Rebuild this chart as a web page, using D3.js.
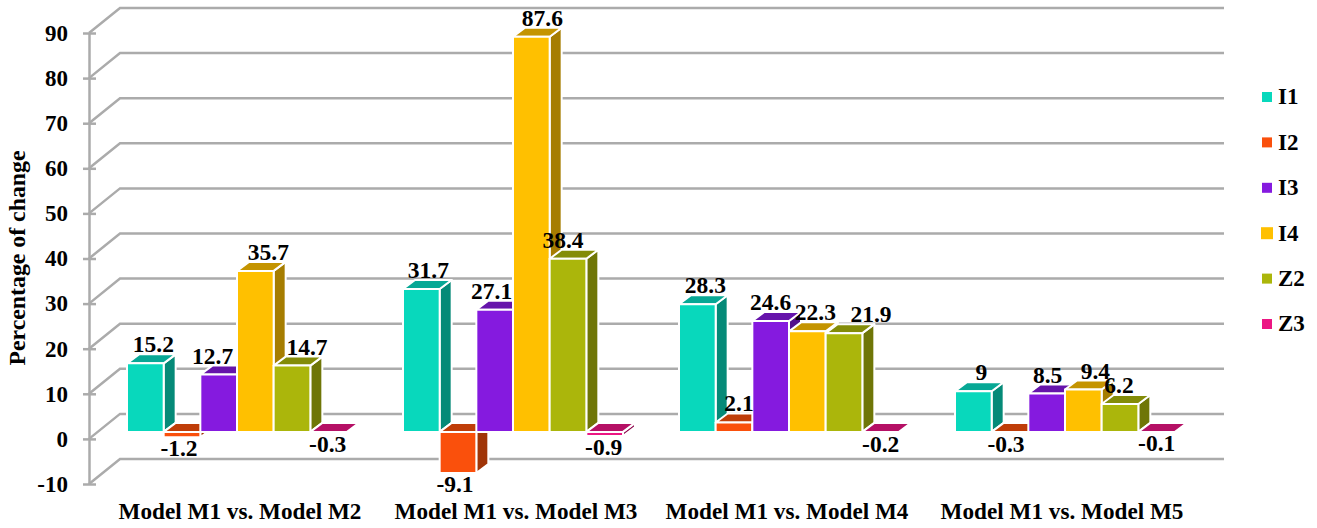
<!DOCTYPE html>
<html>

<head>
    <meta charset="utf-8">
    <style>
        html, body { margin: 0; background: #fff; }
        svg { display: block; }
        text { font-family: "Liberation Serif", serif; font-weight: bold; fill: #000; }
        .grid { fill: none; stroke: #ababab; stroke-width: 2.5; }
        .axis path.domain { stroke: #ababab; stroke-width: 2.5; }
        .axis line { stroke: #ababab; stroke-width: 2.5; }
        .bar-face { stroke: #fff; stroke-width: 2; stroke-linejoin: round; }
    </style>
</head>

<body>
    <svg id="container" width="1317" height="528"></svg>
</body>
<script src="https://cdn.jsdelivr.net/npm/d3@7/dist/d3.min.js"></script>

<script>
    const comparisons = ["Model M1 vs. Model M2", "Model M1 vs. Model M3", "Model M1 vs. Model M4", "Model M1 vs. Model M5"]
    const seriesNames = ["I1", "I2", "I3", "I4", "Z2", "Z3"]

    const I1 = [15.2, 31.7, 28.3, 9]
    const I2 = [-1.2, -9.1, 2.1, -0.3]
    const I3 = [12.7, 27.1, 24.6, 8.5]
    const I4 = [35.7, 87.6, 22.3, 9.4]
    const Z2 = [14.7, 38.4, 21.9, 6.2]
    const Z3 = [-0.3, -0.9, -0.2, -0.1]
    const seriesValues = [I1, I2, I3, I4, Z2, Z3]

    const yTicks = [-10, 0, 10, 20, 30, 40, 50, 60, 70, 80, 90]

    // front / top / side shade per series
    const front = ["#08d8bc", "#fa500c", "#851adf", "#ffc000", "#abb60b", "#ec1683"]
    const top_ = ["#07a895", "#bf3d08", "#6614ab", "#c49400", "#838c08", "#b51065"]
    const side = ["#058a78", "#a03508", "#52108c", "#a67d00", "#6f7607", "#8f0c50"]

    // horizontal shift of value labels so they clear the neighbouring bars
    const labelShift = [
        [8, -3, -6, 13, 15, -1],
        [7, -3, -3, 11, -5, -1],
        [8, 5, 0, 8, 27, 0],
        [8, -4, 1, 12, -1, 0]
    ]
    const categoryShift = [3, 3, -2, -3]

    const svg = d3.select("#container")

    const axisX = 89, wallDx = 31, wallDy = -25, wallRight = 1224
    const barDx = 10, barDy = -7, depthX = 12, depthY = -9

    const y = d3.scaleLinear().domain([-10, 90]).range([484, 33])
    const x0 = d3.scaleBand().domain(comparisons).range([axisX + barDx, axisX + barDx + 1104])
    const x1 = d3.scaleBand().domain(seriesNames).range([28, 248])

    // floor and wall lines
    svg.append("g").selectAll("path").data(yTicks).enter().append("path")
        .attr("class", "grid")
        .attr("d", d => `M${axisX},${y(d)}L${axisX + wallDx},${y(d) + wallDy}L${wallRight},${y(d) + wallDy}`)

    const yAxis = svg.append("g").attr("class", "axis").attr("transform", `translate(${axisX},0)`)
        .call(d3.axisLeft(y).tickValues(yTicks).tickFormat(d => String(d)).tickSizeOuter(0).tickSizeInner(6).tickPadding(15))
    yAxis.selectAll(".tick line").attr("x1", 7).attr("x2", -6)
    yAxis.selectAll(".tick text").style("font-size", "23px").attr("dy", "0.32em")

    const xAxis = svg.append("g").attr("class", "axis").attr("transform", "translate(0,500)")
        .call(d3.axisBottom(x0).tickSize(0).tickPadding(0))
    xAxis.select(".domain").remove()
    xAxis.selectAll(".tick text")
        .style("font-size", "23.2px")
        .attr("x", (d, i) => categoryShift[i])
        .attr("dy", "19")

    svg.append("text")
        .attr("transform", "translate(25,258) rotate(-90)")
        .attr("text-anchor", "middle")
        .style("font-size", "23.8px")
        .text("Percentage of change")

    // bars, one group per comparison
    const base = y(0) + barDy
    comparisons.forEach((cat, c) => {
        const g = svg.append("g").attr("transform", `translate(${x0(cat)},0)`)
        seriesNames.forEach((name, s) => {
            const v = seriesValues[s][c]
            const bx = x1(name), bw = x1.bandwidth()
            const yv = y(v) + barDy
            const yTop = Math.min(yv, base), yBot = Math.max(yv, base)

            g.append("path").attr("class", "bar-face").attr("fill", side[s])
                .attr("d", `M${bx + bw},${yTop}l${depthX},${depthY}V${yBot + depthY}l${-depthX},${-depthY}Z`)
            g.append("path").attr("class", "bar-face").attr("fill", top_[s])
                .attr("d", `M${bx},${yTop}l${depthX},${depthY}h${bw}l${-depthX},${-depthY}Z`)
            g.append("rect").attr("class", "bar-face").attr("fill", front[s])
                .attr("x", bx).attr("y", yTop).attr("width", bw).attr("height", yBot - yTop)
        })
    })

    // value labels go on top so bars never cover them
    comparisons.forEach((cat, c) => {
        seriesNames.forEach((name, s) => {
            const v = seriesValues[s][c]
            svg.append("text")
                .attr("x", x0(cat) + x1(name) + x1.bandwidth() / 2 + labelShift[c][s])
                .attr("y", y(v) + barDy + (v < 0 ? 19 : -11))
                .attr("text-anchor", "middle")
                .style("font-size", "23.5px")
                .text(v)
        })
    })

    // legend
    const legendY = d3.scalePoint().domain(seriesNames).range([97, 324])
    const legend = svg.append("g").selectAll("g").data(seriesNames).enter().append("g")
        .attr("transform", d => `translate(1267,${legendY(d)})`)
    legend.append("rect")
        .attr("x", d => d == "I4" ? -6 : -5).attr("y", d => d == "I4" ? -6 : -5)
        .attr("width", d => d == "I4" ? 12 : 10).attr("height", d => d == "I4" ? 12 : 10)
        .attr("fill", (d, i) => front[i])
    legend.append("text")
        .attr("x", 11).attr("dy", "0.32em")
        .style("font-size", "23px")
        .text(d => d)
</script>

</html>
